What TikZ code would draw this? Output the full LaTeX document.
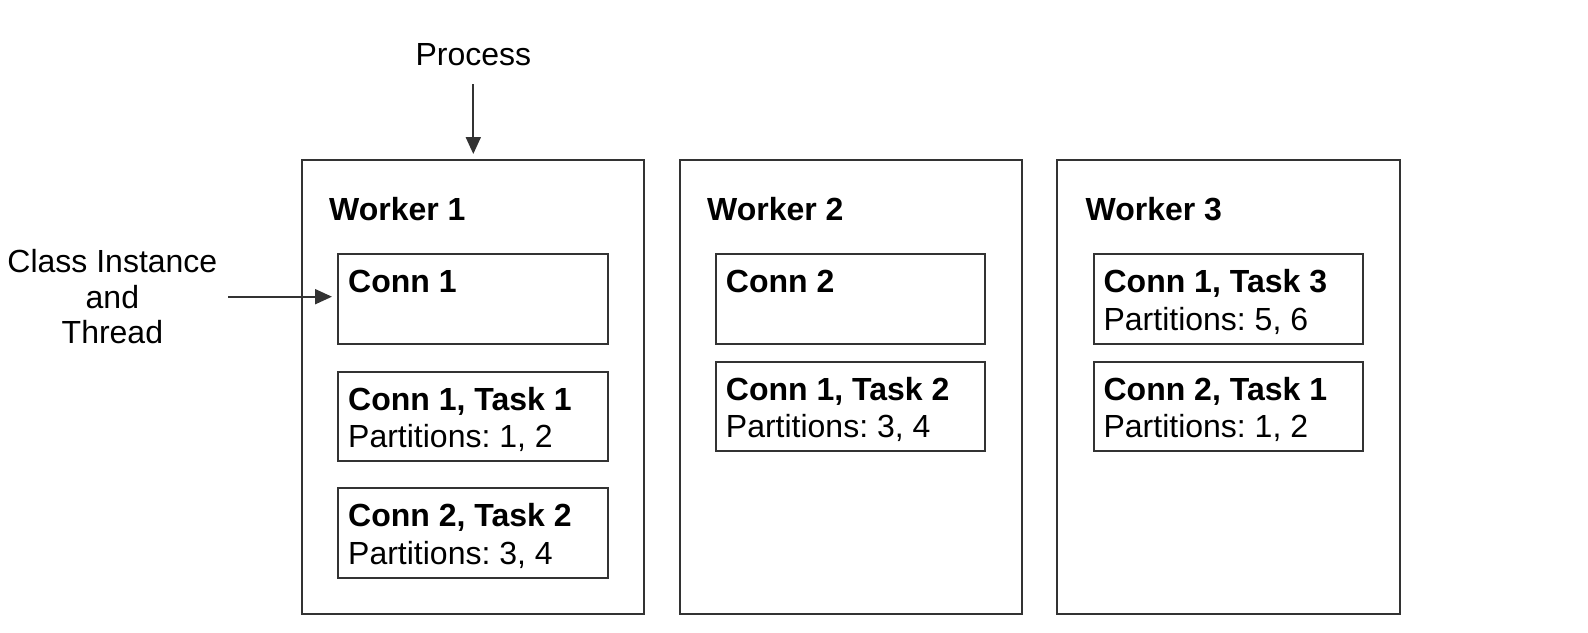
\documentclass[tikz,border=0pt]{standalone}
\usepackage{fontspec}
\setmainfont{Liberation Sans}
\usetikzlibrary{arrows.meta}
\frenchspacing
\definecolor{linegray}{HTML}{333333}
\tikzset{
  worker/.style={draw=linegray, line width=2pt, rectangle, anchor=north west, minimum width=342.2pt, minimum height=453.7pt, inner sep=0pt},
  inbox/.style={draw=linegray, line width=2pt, rectangle, anchor=north west, minimum width=269.4pt, minimum height=89.5pt, inner sep=0pt},
  title/.style={anchor=base west, inner sep=0pt, font=\fontsize{32}{37}\selectfont\bfseries},
  plain/.style={anchor=base west, inner sep=0pt, font=\fontsize{32}{37}\selectfont},
  lbl/.style={inner sep=0pt, font=\fontsize{32}{35.5}\selectfont, align=center},
  arr/.style={-{Triangle[length=17pt,width=15pt]}, draw=linegray, line width=2pt}
}
\begin{document}
\begin{tikzpicture}[x=1pt,y=-1pt]
\useasboundingbox (0,0) rectangle (1588,632);
% workers
\node[worker] (w1) at (300.8,159) {};
\node[worker] (w2) at (678.6,159) {};
\node[worker] (w3) at (1056.4,159) {};
\node[title] (w1t) at (329,220) {Worker 1};
\node[title] (w2t) at (707,220) {Worker 2};
\node[title] (w3t) at (1085.5,220) {Worker 3};
% worker 1 boxes
\node[inbox] (c11) at (337.3,253.2) {};
\node[title] (c11t) at (348,292.9) {Conn 1};
\node[inbox] (c12) at (337.3,370.7) {};
\node[title] (c12t) at (348,410.4) {Conn 1, Task 1};
\node[plain] (c12p) at (348,447.7) {Partitions: 1, 2};
\node[inbox] (c13) at (337.3,487.2) {};
\node[title] (c13t) at (348,526.9) {Conn 2, Task 2};
\node[plain] (c13p) at (348,564.2) {Partitions: 3, 4};
% worker 2 boxes
\node[inbox] (c21) at (715,253.2) {};
\node[title] (c21t) at (725.7,292.9) {Conn 2};
\node[inbox] (c22) at (715,360.6) {};
\node[title] (c22t) at (725.7,400.3) {Conn 1, Task 2};
\node[plain] (c22p) at (725.7,437.6) {Partitions: 3, 4};
% worker 3 boxes
\node[inbox] (c31) at (1092.8,253.2) {};
\node[title] (c31t) at (1103.4,292.9) {Conn 1, Task 3};
\node[plain] (c31p) at (1103.4,330.2) {Partitions: 5, 6};
\node[inbox] (c32) at (1092.8,360.6) {};
\node[title] (c32t) at (1103.4,400.3) {Conn 2, Task 1};
\node[plain] (c32p) at (1103.4,437.6) {Partitions: 1, 2};
% labels
\node[plain, anchor=base] (proc) at (473.3,65.5) {Process};
\coordinate (procstart) at (473.3,84);
\coordinate (procend) at (473.3,154);
\draw[arr] (procstart) -- (procend);
\node[lbl] (cls) at (112.4,296.7) {Class Instance\\and\\Thread};
\coordinate (clsstart) at (228,296.7);
\coordinate (clsend) at (332,296.7);
\draw[arr] (clsstart) -- (clsend);
\end{tikzpicture}
\end{document}
